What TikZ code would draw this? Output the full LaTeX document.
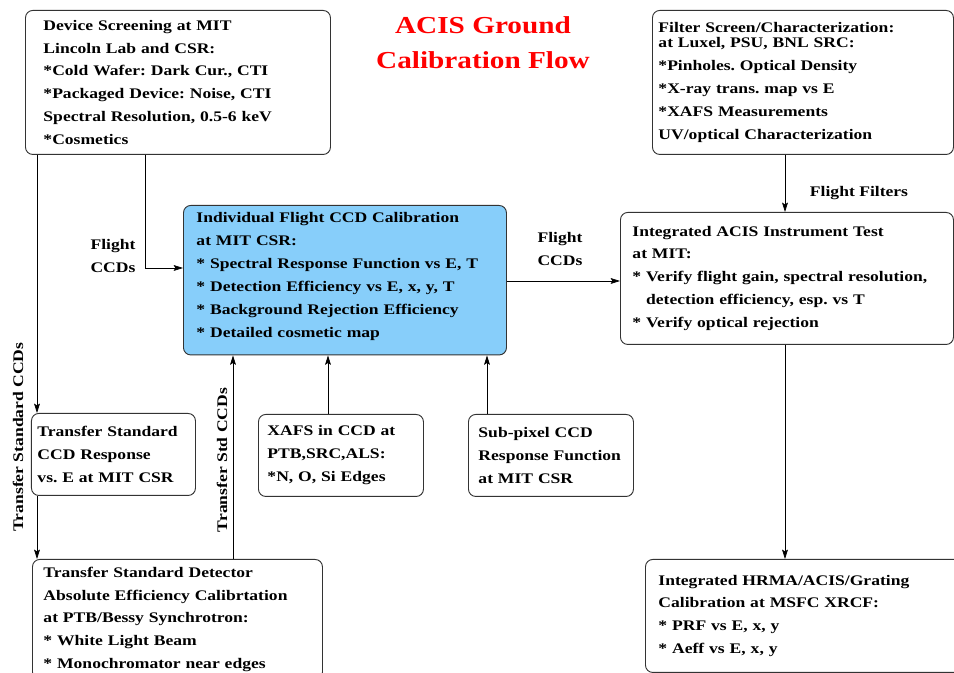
\documentclass[tikz,border=0pt]{standalone}
\usepackage{fontspec}
\setmainfont{Liberation Serif}[FakeStretch=1.2]
\usetikzlibrary{arrows.meta}
\definecolor{calblue}{RGB}{135,206,250}
\frenchspacing

\begin{document}
\begin{tikzpicture}[
    box/.style={draw=black!80, line width=0.8pt, rounded corners=0.22cm, anchor=north west,
        align=left, font=\fontsize{12.5}{19.6}\selectfont\bfseries},
    lbl/.style={font=\fontsize{12.5}{19.6}\selectfont\bfseries, align=center},
    arr/.style={-{Stealth[length=8pt,width=5pt,inset=1.5pt]}, line width=0.6pt}
]
    \useasboundingbox (0,0) rectangle (28.62,20.19);

    \node[font=\fontsize{20.8}{29.8}\selectfont\bfseries, text=red, align=center] (title) at (14.49,18.92) {ACIS Ground\\Calibration Flow};

    \node[box, inner xsep=0.54cm, text width=8.07cm, minimum height=4.32cm] (screen) at (0.75,19.89)
        {Device Screening at MIT\\Lincoln Lab and CSR:\\{}*Cold Wafer: Dark Cur., CTI\\{}*Packaged Device: Noise, CTI\\Spectral Resolution, 0.5-6 keV\\{}*Cosmetics};
    \node[box, inner xsep=0.18cm, text width=8.67cm, minimum height=4.32cm] (filter) at (19.56,19.89)
        {Filter Screen/Characterization:\\[-0.24cm]at Luxel, PSU, BNL SRC:\\{}*Pinholes. Optical Density\\{}*X-ray trans. map vs E\\{}*XAFS Measurements\\UV/optical Characterization};
    \node[box, fill=calblue, inner xsep=0.39cm, inner ysep=0.2cm, text width=8.91cm, text depth=3.78cm] (flightcal) at (5.49,14.04)
        {Individual Flight CCD Calibration\\at MIT CSR:\\{}* Spectral Response Function vs E, T\\{}* Detection Efficiency vs E, x, y, T\\{}* Background Rejection Efficiency\\{}* Detailed cosmetic map};
    \node[box, inner xsep=0.36cm, text width=9.27cm, minimum height=3.96cm] (acistest) at (18.6,13.83)
        {Integrated ACIS Instrument Test\\at MIT:\\{}* Verify flight gain, spectral resolution,\\\phantom{* }detection efficiency, esp. vs T\\{}* Verify optical rejection};

    \node[box, inner xsep=0.18cm, text width=4.56cm, minimum height=2.46cm] (tsresp) at (0.93,7.8)
        {Transfer Standard\\CCD Response\\vs. E at MIT CSR};
    \node[box, inner xsep=0.27cm, text width=4.41cm, minimum height=2.46cm] (xafs) at (7.74,7.77)
        {XAFS in CCD at\\PTB,SRC,ALS:\\{}*N, O, Si Edges};
    \node[box, inner xsep=0.3cm, text width=4.35cm, minimum height=2.46cm] (subpix) at (14.04,7.77)
        {Sub-pixel CCD\\Response Function\\at MIT CSR};

    \node[box, inner xsep=0.33cm, text width=8.04cm, minimum height=3.6cm] (tsdet) at (0.96,3.42)
        {Transfer Standard Detector\\Absolute Efficiency Calibrtation\\at PTB/Bessy Synchrotron:\\{}* White Light Beam\\{}* Monochromator near edges};
    \node[box, inner xsep=0.39cm, text width=8.82cm, minimum height=3.39cm] (hrma) at (19.35,3.42)
        {Integrated HRMA/ACIS/Grating\\Calibration at MSFC XRCF:\\{}* PRF vs E, x, y\\{}* Aeff vs E, x, y};

    \coordinate (lx) at (1.11,0);
    \coordinate (fl) at (4.35,12.15);
    \coordinate (fr) at (0,11.76);
    \coordinate (mx) at (23.55,0);
    \coordinate (stdx) at (6.99,0);
    \coordinate (xafsx) at (9.84,0);
    \coordinate (subx) at (14.61,0);

    \draw[arr] (screen.south -| lx) -- (tsresp.north -| lx);
    \draw[arr] (tsresp.south -| lx) -- (tsdet.north -| lx);
    \draw[arr] (screen.south -| fl) |- (flightcal.west |- fl);
    \draw[arr] (flightcal.east |- fr) -- (acistest.west |- fr);
    \draw[arr] (filter.south -| mx) -- (acistest.north -| mx);
    \draw[arr] (acistest.south -| mx) -- (hrma.north -| mx);
    \draw[arr] (tsdet.north -| stdx) -- (flightcal.south -| stdx);
    \draw[arr] (xafs.north -| xafsx) -- (flightcal.south -| xafsx);
    \draw[arr] (subpix.north -| subx) -- (flightcal.south -| subx);

    \node[lbl, rotate=90] (tslbl) at (0.54,7.08) {Transfer Standard CCDs};
    \node[lbl, rotate=90] (stdlbl) at (6.66,6.39) {Transfer Std CCDs};
    \node[lbl] (fllbl) at (3.39,12.51) {Flight\\CCDs};
    \node[lbl] (frlbl) at (16.8,12.72) {Flight\\CCDs};
    \node[lbl] (filtlbl) at (25.77,14.4) {Flight Filters};
\end{tikzpicture}
\end{document}
